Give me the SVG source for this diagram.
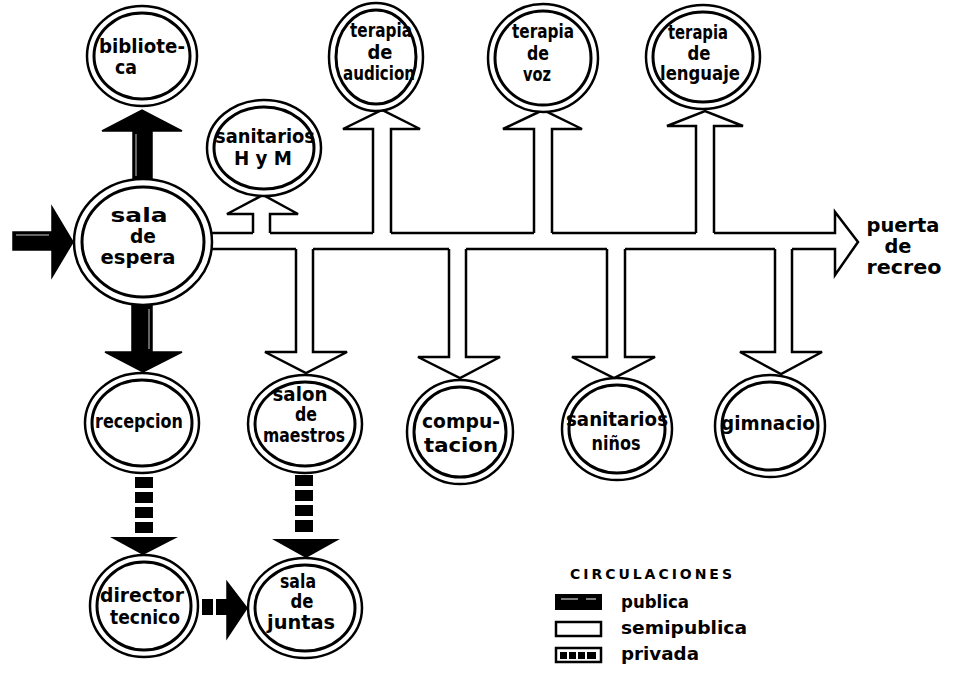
<svg xmlns="http://www.w3.org/2000/svg" width="956" height="674" viewBox="0 0 956 674">
  <style>
    .ro { fill: #fff; stroke: #000; stroke-width: 2.5; }
    .ri { fill: none; stroke: #000; stroke-width: 3; }
    .lbl { font-family: "DejaVu Sans", "Liberation Sans", sans-serif; font-weight: bold; font-size: 19px; text-anchor: middle; fill: #000; }
    .semi { fill: none; stroke: #000; stroke-width: 2.5; stroke-linejoin: miter; }
    .pub { fill: #000; stroke: #000; stroke-width: 1.5; stroke-linejoin: miter; }
    .pubin { fill: none; stroke: #fff; stroke-width: 0.8; }
    .priv { fill: #000; }
    .leg { font-family: "DejaVu Sans", "Liberation Sans", sans-serif; font-weight: bold; font-size: 18px; fill: #000; }
    .legt { font-family: "DejaVu Sans", "Liberation Sans", sans-serif; font-weight: bold; font-size: 14px; fill: #000; }
  </style>

  <rect width="956" height="674" fill="#fff"/>

  <!-- circulation connectors -->
  <g id="connectors">
    <!-- semipublic main corridor ending at the playground door -->
    <path class="semi" d="M211,233 H253 M270,233 H373 M391,233 H534 M552,233 H696 M714,233 H835 V212 L858,242 L835,275 V249 H792 M775,249 H625 M607,249 H466 M449,249 H313 M296,249 H211"/>
    <!-- semipublic branches up -->
    <path class="semi" d="M253,233 V214 H227 L263,195 L298,214 H270 V233"/>
    <path class="semi" d="M373,233 V129 H343 L382,110 L420,129 H391 V233"/>
    <path class="semi" d="M534,233 V129 H503 L543,110 L582,129 H552 V233"/>
    <path class="semi" d="M696,233 V126 H667 L705,111 L743,126 H714 V233"/>
    <!-- semipublic branches down -->
    <path class="semi" d="M296,249 V352 H265 L306,373 L347,352 H313 V249"/>
    <path class="semi" d="M449,249 V357 H418 L460,378 L500,357 H466 V249"/>
    <path class="semi" d="M607,249 V357 H572 L614,378 L655,357 H625 V249"/>
    <path class="semi" d="M775,249 V352 H740 L781,374 L822,352 H792 V249"/>

    <!-- public: entrance -->
    <path class="pub" d="M13,232 H52 V207 L73,242 L52,277 V250 H13 Z"/>
    <path class="pubin" d="M16,235 H49"/>
    <!-- public: to library -->
    <path class="pub" d="M133,180 V131 H102 L142,110 L182,131 H152 V180 Z"/>
    <path class="pubin" d="M136,176 V134"/>
    <!-- public: to reception -->
    <path class="pub" d="M132,305 V352 H105 L143,372 L182,352 H152 V305 Z"/>
    <path class="pubin" d="M149,309 V349"/>

    <!-- private: reception to director -->
    <g class="priv">
      <rect x="135" y="477" width="18" height="11"/>
      <rect x="135" y="492" width="18" height="11"/>
      <rect x="135" y="507" width="18" height="11"/>
      <rect x="135" y="522" width="18" height="11"/>
      <path d="M110,537 H178 L143,555 Z"/>
    </g>
    <!-- private: teachers room to meeting room -->
    <g class="priv">
      <rect x="295" y="475" width="18" height="11"/>
      <rect x="295" y="490" width="18" height="11"/>
      <rect x="295" y="505" width="18" height="11"/>
      <rect x="295" y="520" width="18" height="12"/>
      <path d="M272,539 H340 L306,558 Z"/>
    </g>
    <!-- private: director to meeting room -->
    <g class="priv">
      <rect x="202" y="599" width="11" height="16"/>
      <rect x="216" y="599" width="11" height="16"/>
      <path d="M227,582 L247,608 L227,638 Z" stroke="#000" stroke-width="1.5"/>
    </g>
  </g>

  <!-- rooms -->
  <g id="n-biblioteca">
    <ellipse class="ro" cx="142" cy="56" rx="55" ry="50"/>
    <ellipse class="ri" cx="142" cy="56" rx="48" ry="43"/>
    <text class="lbl" x="142" y="53" textLength="86" lengthAdjust="spacingAndGlyphs">bibliote-</text>
    <text class="lbl" x="126" y="74" textLength="22" lengthAdjust="spacingAndGlyphs">ca</text>
  </g>

  <g id="n-sanitarios-hm">
    <ellipse class="ro" cx="264" cy="148" rx="57" ry="48"/>
    <ellipse class="ri" cx="264" cy="148" rx="50" ry="41"/>
    <text class="lbl" x="265" y="143" textLength="100" lengthAdjust="spacingAndGlyphs">sanitarios</text>
    <text class="lbl" x="263" y="165" textLength="58" lengthAdjust="spacingAndGlyphs">H y M</text>
  </g>

  <g id="n-terapia-audicion">
    <ellipse class="ro" cx="376" cy="57" rx="47" ry="54"/>
    <ellipse class="ri" cx="376" cy="57" rx="40" ry="47"/>
    <text class="lbl" x="381" y="37" textLength="62" lengthAdjust="spacingAndGlyphs">terapia</text>
    <text class="lbl" x="380" y="59" textLength="25" lengthAdjust="spacingAndGlyphs">de</text>
    <text class="lbl" x="379" y="80" textLength="72" lengthAdjust="spacingAndGlyphs">audicion</text>
  </g>

  <g id="n-terapia-voz">
    <ellipse class="ro" cx="543" cy="58" rx="55" ry="54"/>
    <ellipse class="ri" cx="543" cy="58" rx="48" ry="47"/>
    <text class="lbl" x="543" y="38" textLength="62" lengthAdjust="spacingAndGlyphs">terapia</text>
    <text class="lbl" x="538" y="60" textLength="22" lengthAdjust="spacingAndGlyphs">de</text>
    <text class="lbl" x="537" y="81" textLength="28" lengthAdjust="spacingAndGlyphs">voz</text>
  </g>

  <g id="n-terapia-lenguaje">
    <ellipse class="ro" cx="703" cy="57" rx="57" ry="52"/>
    <ellipse class="ri" cx="703" cy="57" rx="50" ry="45"/>
    <text class="lbl" x="698" y="39" textLength="60" lengthAdjust="spacingAndGlyphs">terapia</text>
    <text class="lbl" x="699" y="60" textLength="23" lengthAdjust="spacingAndGlyphs">de</text>
    <text class="lbl" x="700" y="80" textLength="80" lengthAdjust="spacingAndGlyphs">lenguaje</text>
  </g>

  <g id="n-sala-espera">
    <ellipse class="ro" cx="143" cy="242" rx="69" ry="63"/>
    <ellipse class="ri" cx="143" cy="242" rx="61" ry="55"/>
    <text class="lbl" x="139" y="222" textLength="57" lengthAdjust="spacingAndGlyphs">sala</text>
    <text class="lbl" x="143" y="243" textLength="26" lengthAdjust="spacingAndGlyphs">de</text>
    <text class="lbl" x="138" y="264" textLength="75" lengthAdjust="spacingAndGlyphs">espera</text>
  </g>

  <g id="n-recepcion">
    <ellipse class="ro" cx="142" cy="423" rx="57" ry="50"/>
    <ellipse class="ri" cx="142" cy="423" rx="50" ry="43"/>
    <text class="lbl" x="139" y="428" textLength="88" lengthAdjust="spacingAndGlyphs">recepcion</text>
  </g>

  <g id="n-salon-maestros">
    <ellipse class="ro" cx="305" cy="424" rx="57" ry="49"/>
    <ellipse class="ri" cx="305" cy="424" rx="50" ry="42"/>
    <text class="lbl" x="300" y="401" textLength="55" lengthAdjust="spacingAndGlyphs">salon</text>
    <text class="lbl" x="306" y="421" textLength="22" lengthAdjust="spacingAndGlyphs">de</text>
    <text class="lbl" x="304" y="442" textLength="82" lengthAdjust="spacingAndGlyphs">maestros</text>
  </g>

  <g id="n-computacion">
    <ellipse class="ro" cx="460" cy="432" rx="53" ry="52"/>
    <ellipse class="ri" cx="460" cy="432" rx="46" ry="45"/>
    <text class="lbl" x="461" y="428" textLength="78" lengthAdjust="spacingAndGlyphs">compu-</text>
    <text class="lbl" x="461" y="452" textLength="74" lengthAdjust="spacingAndGlyphs">tacion</text>
  </g>

  <g id="n-sanitarios-ninos">
    <ellipse class="ro" cx="617" cy="429" rx="55" ry="51"/>
    <ellipse class="ri" cx="617" cy="429" rx="48" ry="44"/>
    <text class="lbl" x="617" y="426" textLength="102" lengthAdjust="spacingAndGlyphs">sanitarios</text>
    <text class="lbl" x="616" y="450" textLength="49" lengthAdjust="spacingAndGlyphs">niños</text>
  </g>

  <g id="n-gimnacio">
    <ellipse class="ro" cx="770" cy="426" rx="55" ry="51"/>
    <ellipse class="ri" cx="770" cy="426" rx="48" ry="44"/>
    <text class="lbl" x="768" y="430" textLength="94" lengthAdjust="spacingAndGlyphs">gimnacio</text>
  </g>

  <g id="n-director-tecnico">
    <ellipse class="ro" cx="144" cy="606" rx="54" ry="51"/>
    <ellipse class="ri" cx="144" cy="606" rx="47" ry="44"/>
    <text class="lbl" x="142" y="602" textLength="84" lengthAdjust="spacingAndGlyphs">director</text>
    <text class="lbl" x="145" y="624" textLength="70" lengthAdjust="spacingAndGlyphs">tecnico</text>
  </g>

  <g id="n-sala-juntas">
    <ellipse class="ro" cx="305" cy="608" rx="57" ry="50"/>
    <ellipse class="ri" cx="305" cy="608" rx="50" ry="43"/>
    <text class="lbl" x="298" y="588" textLength="36" lengthAdjust="spacingAndGlyphs">sala</text>
    <text class="lbl" x="302" y="608" textLength="23" lengthAdjust="spacingAndGlyphs">de</text>
    <text class="lbl" x="301" y="629" textLength="68" lengthAdjust="spacingAndGlyphs">juntas</text>
  </g>

  <g id="n-puerta-recreo">
    <text class="lbl" x="903" y="232" textLength="73" lengthAdjust="spacingAndGlyphs">puerta</text>
    <text class="lbl" x="898" y="253" textLength="27" lengthAdjust="spacingAndGlyphs">de</text>
    <text class="lbl" x="904" y="274" textLength="75" lengthAdjust="spacingAndGlyphs">recreo</text>
  </g>

  <!-- legend -->
  <g id="legend">
    <text class="legt" x="570" y="579" textLength="162">CIRCULACIONES</text>
    <rect x="556" y="595" width="45" height="14" fill="#000" stroke="#000" stroke-width="2"/>
    <path d="M561,599 H578 M586,599 H596" stroke="#fff" stroke-width="1"/>
    <text class="leg" x="621" y="608" textLength="68" lengthAdjust="spacingAndGlyphs">publica</text>
    <rect x="556" y="622" width="45" height="14" fill="#fff" stroke="#000" stroke-width="2.5"/>
    <text class="leg" x="621" y="634" textLength="126" lengthAdjust="spacingAndGlyphs">semipublica</text>
    <rect x="556" y="648" width="45" height="14" fill="#fff" stroke="#000" stroke-width="2.5"/>
    <g fill="#000">
      <rect x="560" y="652" width="7" height="7"/>
      <rect x="569" y="652" width="7" height="7"/>
      <rect x="578" y="652" width="7" height="7"/>
      <rect x="587" y="652" width="9" height="7"/>
    </g>
    <text class="leg" x="621" y="660" textLength="78" lengthAdjust="spacingAndGlyphs">privada</text>
  </g>
</svg>
